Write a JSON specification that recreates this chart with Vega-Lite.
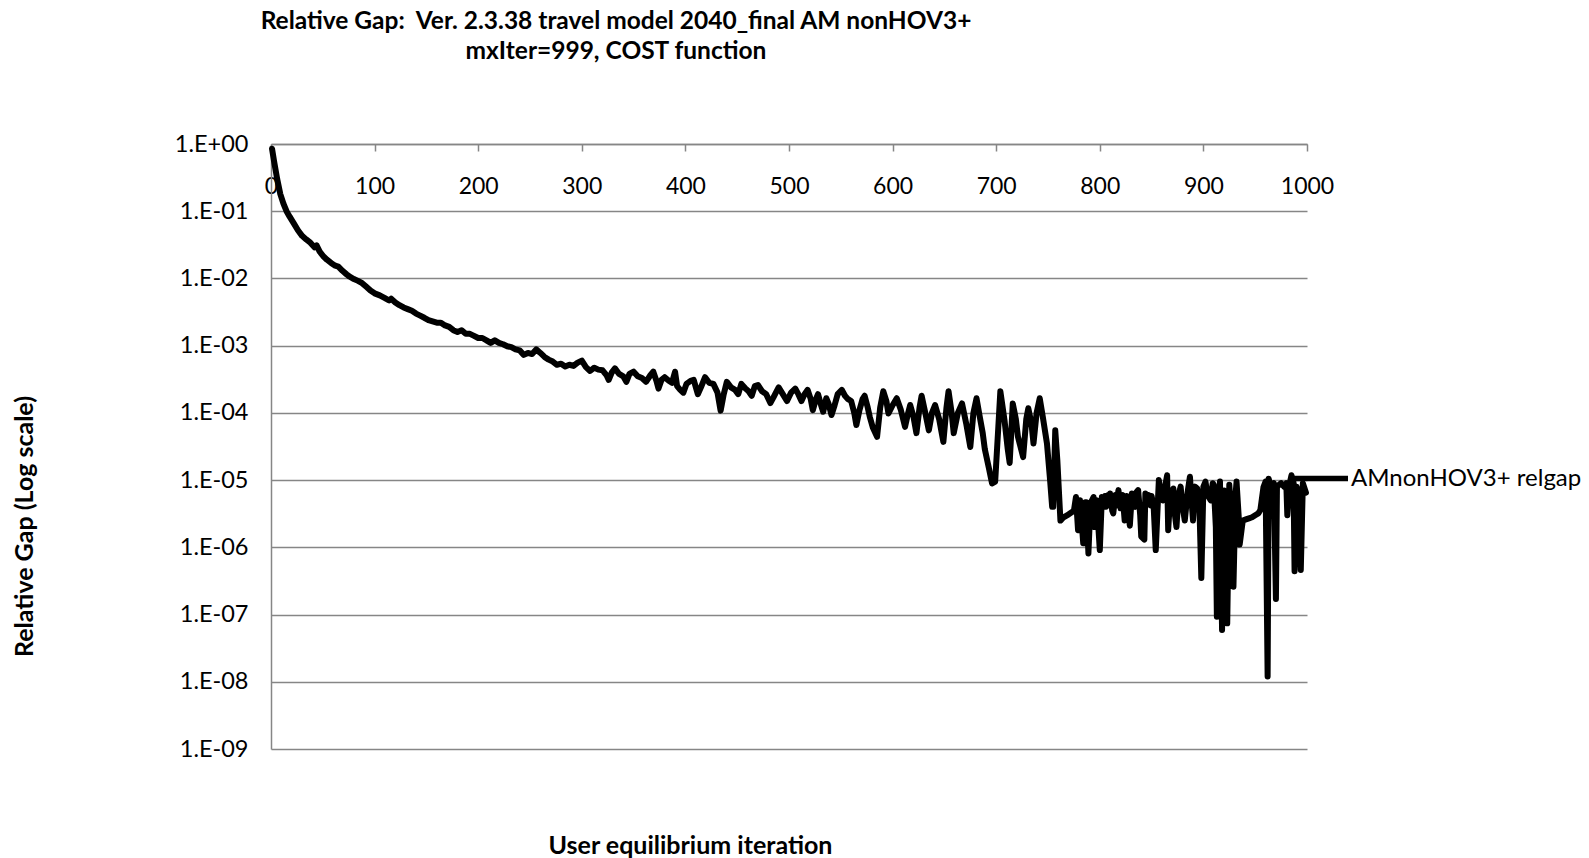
{
  "$schema": "https://vega.github.io/schema/vega-lite/v6.json",
  "autosize": {"type": "none"},
  "padding": {"left": 271, "top": 144, "right": 282, "bottom": 109},
  "width": 1036,
  "height": 605,
  "background": "white",
  "title": {
    "text": ["Relative Gap:\u00a0 Ver. 2.3.38 travel model 2040_final AM nonHOV3+", "mxIter=999, COST function"],
    "anchor": "start",
    "align": "center",
    "frame": "group",
    "dx": 345,
    "offset": 68,
    "font": "Lato",
    "fontSize": 24.5,
    "fontWeight": "bold",
    "lineHeight": 30,
    "color": "black"
  },
  "config": {
    "view": {"stroke": null},
    "font": "Lato"
  },
  "data": {
    "values": [
      {"iter":1,"gap":0.85},{"iter":3,"gap":0.55},{"iter":6,"gap":0.3},{"iter":9,"gap":0.18},{"iter":12,"gap":0.13},
      {"iter":15,"gap":0.1},{"iter":18,"gap":0.083},{"iter":22,"gap":0.066},{"iter":26,"gap":0.052},{"iter":30,"gap":0.043},
      {"iter":34,"gap":0.038},{"iter":38,"gap":0.034},{"iter":42,"gap":0.029},{"iter":44,"gap":0.031},{"iter":47,"gap":0.025},
      {"iter":51,"gap":0.021},{"iter":54,"gap":0.019},{"iter":58,"gap":0.017},{"iter":62,"gap":0.0155},{"iter":65,"gap":0.015},
      {"iter":69,"gap":0.013},{"iter":73,"gap":0.0115},{"iter":76,"gap":0.0106},{"iter":80,"gap":0.0098},{"iter":84,"gap":0.0092},
      {"iter":88,"gap":0.0085},{"iter":92,"gap":0.0075},{"iter":96,"gap":0.0066},{"iter":100,"gap":0.006},{"iter":105,"gap":0.0056},
      {"iter":110,"gap":0.0051},{"iter":114,"gap":0.0047},{"iter":116,"gap":0.005},{"iter":120,"gap":0.0044},{"iter":124,"gap":0.004},
      {"iter":128,"gap":0.0037},{"iter":132,"gap":0.0035},{"iter":136,"gap":0.0033},{"iter":140,"gap":0.003},{"iter":144,"gap":0.0028},
      {"iter":148,"gap":0.0026},{"iter":152,"gap":0.0024},{"iter":156,"gap":0.0023},{"iter":160,"gap":0.0022},{"iter":164,"gap":0.0022},
      {"iter":168,"gap":0.002},{"iter":172,"gap":0.0019},{"iter":176,"gap":0.0017},{"iter":180,"gap":0.0016},{"iter":184,"gap":0.0017},
      {"iter":188,"gap":0.0015},{"iter":192,"gap":0.0015},{"iter":196,"gap":0.0014},{"iter":200,"gap":0.0013},{"iter":204,"gap":0.0013},
      {"iter":208,"gap":0.0012},{"iter":212,"gap":0.0011},{"iter":216,"gap":0.0012},{"iter":220,"gap":0.0011},{"iter":224,"gap":0.00105},
      {"iter":228,"gap":0.00098},{"iter":232,"gap":0.00095},{"iter":236,"gap":0.00088},{"iter":240,"gap":0.00085},{"iter":244,"gap":0.00073},
      {"iter":248,"gap":0.00078},{"iter":252,"gap":0.00075},{"iter":256,"gap":0.00088},{"iter":260,"gap":0.00078},{"iter":264,"gap":0.00068},
      {"iter":268,"gap":0.00062},{"iter":272,"gap":0.00058},{"iter":276,"gap":0.00052},{"iter":280,"gap":0.00054},{"iter":284,"gap":0.00049},
      {"iter":288,"gap":0.00052},{"iter":292,"gap":0.0005},{"iter":296,"gap":0.00056},{"iter":300,"gap":0.0006},{"iter":304,"gap":0.00048},
      {"iter":308,"gap":0.00042},{"iter":312,"gap":0.00047},{"iter":316,"gap":0.00044},{"iter":320,"gap":0.00043},{"iter":324,"gap":0.00036},
      {"iter":326,"gap":0.00031},{"iter":329,"gap":0.0004},{"iter":332,"gap":0.00046},{"iter":336,"gap":0.00038},{"iter":340,"gap":0.00035},
      {"iter":343,"gap":0.00029},{"iter":346,"gap":0.00038},{"iter":350,"gap":0.00041},{"iter":354,"gap":0.00035},{"iter":358,"gap":0.00033},
      {"iter":362,"gap":0.00029},{"iter":366,"gap":0.00036},{"iter":369,"gap":0.00041},{"iter":372,"gap":0.0003},{"iter":374,"gap":0.00023},
      {"iter":377,"gap":0.00031},{"iter":380,"gap":0.00034},{"iter":384,"gap":0.0003},{"iter":387,"gap":0.00028},{"iter":390,"gap":0.00041},
      {"iter":392,"gap":0.00025},{"iter":395,"gap":0.00022},{"iter":398,"gap":0.0002},{"iter":401,"gap":0.00027},{"iter":405,"gap":0.0003},
      {"iter":408,"gap":0.00031},{"iter":412,"gap":0.00019},{"iter":415,"gap":0.00024},{"iter":419,"gap":0.00034},{"iter":423,"gap":0.00028},
      {"iter":427,"gap":0.00027},{"iter":431,"gap":0.0002},{"iter":434,"gap":0.000108},{"iter":437,"gap":0.00019},{"iter":440,"gap":0.00029},
      {"iter":444,"gap":0.00024},{"iter":448,"gap":0.00022},{"iter":451,"gap":0.00019},{"iter":454,"gap":0.00027},{"iter":458,"gap":0.00023},
      {"iter":461,"gap":0.00021},{"iter":464,"gap":0.00018},{"iter":467,"gap":0.00025},{"iter":470,"gap":0.00026},{"iter":474,"gap":0.00021},
      {"iter":478,"gap":0.00019},{"iter":482,"gap":0.00014},{"iter":485,"gap":0.00017},{"iter":488,"gap":0.00021},{"iter":490,"gap":0.00024},
      {"iter":494,"gap":0.00019},{"iter":498,"gap":0.00015},{"iter":502,"gap":0.0002},{"iter":506,"gap":0.00023},{"iter":509,"gap":0.00019},
      {"iter":512,"gap":0.00015},{"iter":515,"gap":0.00019},{"iter":518,"gap":0.00022},{"iter":521,"gap":0.00016},{"iter":523,"gap":0.00011},
      {"iter":526,"gap":0.00016},{"iter":528,"gap":0.00019},{"iter":531,"gap":0.00013},{"iter":533,"gap":0.000104},{"iter":536,"gap":0.000165},
      {"iter":538,"gap":0.00014},{"iter":541,"gap":0.000093},{"iter":544,"gap":0.00013},{"iter":547,"gap":0.00019},{"iter":551,"gap":0.00022},
      {"iter":554,"gap":0.00018},{"iter":557,"gap":0.00016},{"iter":560,"gap":0.00015},{"iter":563,"gap":0.0001},{"iter":565,"gap":0.000066},
      {"iter":568,"gap":0.00011},{"iter":571,"gap":0.00016},{"iter":573,"gap":0.00018},{"iter":576,"gap":0.00012},{"iter":578,"gap":0.000087},
      {"iter":581,"gap":0.00006},{"iter":585,"gap":0.000044},{"iter":588,"gap":0.00012},{"iter":591,"gap":0.00021},{"iter":594,"gap":0.00015},
      {"iter":596,"gap":0.000098},{"iter":600,"gap":0.00013},{"iter":604,"gap":0.000165},{"iter":608,"gap":0.00011},{"iter":612,"gap":0.000062},
      {"iter":615,"gap":0.0001},{"iter":617,"gap":0.000131},{"iter":620,"gap":0.00009},{"iter":623,"gap":0.00005},{"iter":626,"gap":0.00012},
      {"iter":628,"gap":0.00018},{"iter":631,"gap":0.00011},{"iter":635,"gap":0.000055},{"iter":638,"gap":0.0001},{"iter":641,"gap":0.000131},
      {"iter":645,"gap":0.00008},{"iter":649,"gap":0.000037},{"iter":652,"gap":0.00012},{"iter":654,"gap":0.00021},{"iter":657,"gap":0.0001},
      {"iter":659,"gap":0.00005},{"iter":663,"gap":0.0001},{"iter":667,"gap":0.000138},{"iter":671,"gap":0.00007},{"iter":675,"gap":0.000031},
      {"iter":678,"gap":0.0001},{"iter":681,"gap":0.000165},{"iter":684,"gap":0.00009},{"iter":687,"gap":0.00005},{"iter":689,"gap":0.000029},
      {"iter":693,"gap":0.000015},{"iter":696,"gap":0.0000089},{"iter":699,"gap":0.0000095},{"iter":702,"gap":0.00006},{"iter":704,"gap":0.00021},
      {"iter":708,"gap":0.000078},{"iter":711,"gap":0.00003},{"iter":713,"gap":0.000018},{"iter":716,"gap":0.000138},{"iter":719,"gap":0.00008},
      {"iter":721,"gap":0.000044},{"iter":726,"gap":0.000022},{"iter":729,"gap":0.00008},{"iter":731,"gap":0.000117},{"iter":734,"gap":0.00007},
      {"iter":736,"gap":0.000035},{"iter":739,"gap":0.0001},{"iter":742,"gap":0.000165},{"iter":745,"gap":0.000087},{"iter":749,"gap":0.000035},
      {"iter":752,"gap":0.00001},{"iter":754,"gap":0.000004},{"iter":755,"gap":0.000004},{"iter":757,"gap":0.000055},{"iter":759,"gap":0.00002},
      {"iter":762,"gap":0.0000025},{"iter":765,"gap":0.0000028},{"iter":770,"gap":0.0000031},{"iter":775,"gap":0.0000035},{"iter":777,"gap":0.0000056},
      {"iter":779,"gap":0.0000018},{"iter":781,"gap":0.000005},{"iter":784,"gap":0.00000115},{"iter":786,"gap":0.0000047},{"iter":787,"gap":0.0000047},
      {"iter":789,"gap":0.00000081},{"iter":791,"gap":0.0000045},{"iter":794,"gap":0.0000056},{"iter":795,"gap":0.000002},{"iter":797,"gap":0.000005},
      {"iter":800,"gap":0.00000091},{"iter":802,"gap":0.0000056},{"iter":803,"gap":0.0000045},{"iter":805,"gap":0.0000058},{"iter":806,"gap":0.000004},
      {"iter":808,"gap":0.000006},{"iter":809,"gap":0.0000045},{"iter":810,"gap":0.0000063},{"iter":812,"gap":0.0000035},{"iter":813,"gap":0.0000032},
      {"iter":815,"gap":0.000006},{"iter":816,"gap":0.0000042},{"iter":818,"gap":0.0000071},{"iter":820,"gap":0.0000038},{"iter":821,"gap":0.0000055},
      {"iter":822,"gap":0.000006},{"iter":824,"gap":0.0000025},{"iter":826,"gap":0.0000058},{"iter":827,"gap":0.0000038},{"iter":829,"gap":0.0000021},
      {"iter":831,"gap":0.0000063},{"iter":832,"gap":0.0000042},{"iter":834,"gap":0.000004},{"iter":835,"gap":0.0000065},{"iter":837,"gap":0.0000071},
      {"iter":839,"gap":0.000003},{"iter":840,"gap":0.00000144},{"iter":843,"gap":0.0000013},
      {"iter":844,"gap":0.0000063},{"iter":846,"gap":0.0000045},{"iter":847,"gap":0.000006},{"iter":849,"gap":0.0000042},{"iter":850,"gap":0.0000058},{"iter":852,"gap":0.000004},{"iter":854,"gap":0.00000091},
      {"iter":857,"gap":0.00001},{"iter":859,"gap":0.000006},{"iter":861,"gap":0.000005},{"iter":863,"gap":0.000008},{"iter":865,"gap":0.0000118},
      {"iter":866,"gap":0.0000018},{"iter":868,"gap":0.000006},{"iter":871,"gap":0.0000075},{"iter":872,"gap":0.0000035},{"iter":874,"gap":0.000002},
      {"iter":876,"gap":0.000006},{"iter":878,"gap":0.000008},{"iter":880,"gap":0.000004},{"iter":882,"gap":0.0000025},{"iter":885,"gap":0.000007},
      {"iter":887,"gap":0.0000112},{"iter":889,"gap":0.000004},{"iter":890,"gap":0.0000025},{"iter":892,"gap":0.000008},{"iter":894,"gap":0.0000075},
      {"iter":896,"gap":0.000005},{"iter":898,"gap":0.00000035},{"iter":900,"gap":0.000008},{"iter":902,"gap":0.0000095},{"iter":904,"gap":0.000006},
      {"iter":907,"gap":0.000005},{"iter":909,"gap":0.000009},{"iter":910,"gap":0.0000085},{"iter":912,"gap":0.000002},{"iter":913,"gap":0.000000093},
      {"iter":915,"gap":0.000006},{"iter":916,"gap":0.0000095},{"iter":918,"gap":0.000000059},{"iter":920,"gap":0.000007},{"iter":921,"gap":0.000003},
      {"iter":923,"gap":0.000000074},{"iter":925,"gap":0.0000085},{"iter":927,"gap":0.000003},{"iter":929,"gap":0.00000026},{"iter":931,"gap":0.000006},
      {"iter":932,"gap":0.0000095},{"iter":934,"gap":0.000003},{"iter":935,"gap":0.0000011},{"iter":938,"gap":0.0000025},{"iter":941,"gap":0.0000026},
      {"iter":944,"gap":0.0000027},{"iter":947,"gap":0.0000028},{"iter":950,"gap":0.000003},{"iter":953,"gap":0.0000032},{"iter":955,"gap":0.0000036},
      {"iter":958,"gap":0.0000079},{"iter":960,"gap":0.0000095},{"iter":962,"gap":0.000000012},{"iter":963,"gap":0.0000105},{"iter":965,"gap":0.000008},
      {"iter":968,"gap":0.000009},{"iter":970,"gap":0.00000017},{"iter":971,"gap":0.000008},{"iter":973,"gap":0.0000085},{"iter":975,"gap":0.000009},
      {"iter":978,"gap":0.000008},{"iter":980,"gap":0.000009},{"iter":981,"gap":0.000003},{"iter":983,"gap":0.0000085},{"iter":985,"gap":0.0000118},
      {"iter":987,"gap":0.0000092},{"iter":988,"gap":0.00000044},{"iter":990,"gap":0.000008},{"iter":992,"gap":0.000006},{"iter":994,"gap":0.00000046},
      {"iter":996,"gap":0.000009},{"iter":999,"gap":0.0000065}
    ]
  },
  "mark": {"type": "line", "strokeWidth": 6, "strokeJoin": "round", "strokeCap": "round"},
  "encoding": {
    "x": {
      "field": "iter",
      "type": "quantitative",
      "scale": {"domain": [0, 1000], "nice": false, "zero": false},
      "axis": {
        "orient": "bottom",
        "offset": -605,
        "values": [0, 100, 200, 300, 400, 500, 600, 700, 800, 900, 1000],
        "format": "d",
        "grid": false,
        "domain": true,
        "domainColor": "#868686",
        "domainWidth": 1.5,
        "ticks": true,
        "tickColor": "#868686",
        "tickWidth": 1.5,
        "tickSize": 7,
        "labelFont": "Lato",
        "labelFontSize": 23,
        "labelColor": "black",
        "labelPadding": 24,
        "labelFlush": false,
        "labelOverlap": false,
        "title": "User equilibrium iteration",
        "titleFont": "Lato",
        "titleFontSize": 25,
        "titleFontWeight": "bold",
        "titleColor": "black",
        "titleX": 419,
        "titleY": 701,
        "titleAlign": "center",
        "titleBaseline": "middle"
      }
    },
    "y": {
      "field": "gap",
      "type": "quantitative",
      "scale": {"type": "log", "domain": [1e-9, 1], "nice": false},
      "axis": {
        "values": [1, 0.1, 0.01, 0.001, 0.0001, 0.00001, 0.000001, 0.0000001, 0.00000001, 0.000000001],
        "labelExpr": "'1.E' + (datum.value >= 0.5 ? '+' : '-') + '0' + abs(round(log(datum.value)/LN10))",
        "grid": true,
        "gridColor": "#868686",
        "gridWidth": 1.5,
        "domain": true,
        "domainColor": "#868686",
        "domainWidth": 1.5,
        "ticks": false,
        "labelFont": "Lato",
        "labelFontSize": 23.5,
        "labelColor": "black",
        "labelPadding": 23,
        "labelOverlap": false,
        "title": "Relative Gap (Log scale)",
        "titleFont": "Lato",
        "titleFontSize": 25,
        "titleFontWeight": "bold",
        "titleColor": "black",
        "titleAngle": 270,
        "titleX": -247,
        "titleY": 382,
        "titleAlign": "center",
        "titleBaseline": "middle"
      }
    },
    "color": {
      "datum": "AMnonHOV3+ relgap",
      "type": "nominal",
      "scale": {"range": ["#000000"]},
      "legend": {
        "orient": "none",
        "legendX": 1019,
        "legendY": 304,
        "title": null,
        "padding": 0,
        "symbolType": "stroke",
        "symbolSize": 3025,
        "symbolStrokeWidth": 5.5,
        "symbolStrokeColor": "#000000",
        "labelFont": "Lato",
        "labelFontSize": 24,
        "labelColor": "black",
        "labelOffset": 0,
        "labelLimit": 400
      }
    }
  }
}
